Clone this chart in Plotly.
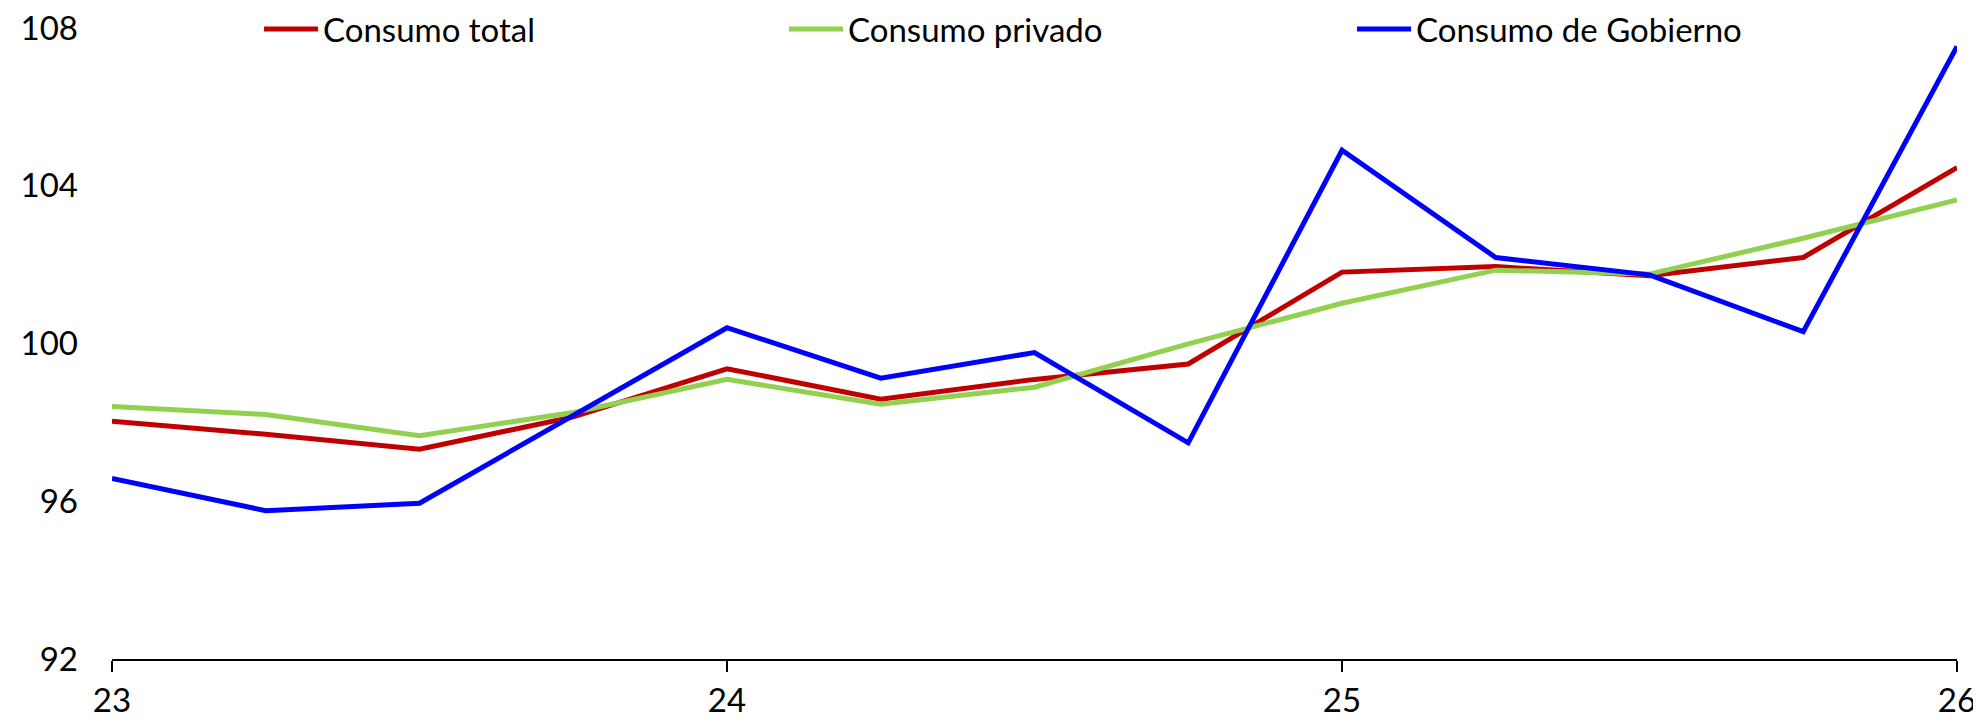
import plotly.graph_objs as go

# trimestres 2023 - 2026 (eje en años "23".."26")
periodos = [23.0, 23.25, 23.5, 23.75, 24.0, 24.25, 24.5, 24.75, 25.0, 25.25, 25.5, 25.75, 26.0]

consumo_total = [98.03, 97.70, 97.32, 98.14, 99.36, 98.59, 99.09, 99.48, 101.81, 101.95, 101.72, 102.18, 104.46]
consumo_privado = [98.40, 98.20, 97.66, 98.25, 99.09, 98.46, 98.89, 99.99, 101.02, 101.86, 101.76, 102.67, 103.64]
consumo_gobierno = [96.58, 95.76, 95.95, 98.17, 100.40, 99.12, 99.77, 97.48, 104.90, 102.18, 101.74, 100.30, 107.53]

nombres = ["Consumo total", "Consumo privado", "Consumo de Gobierno"]
colores = ["#C00000", "#92D050", "#0000FF"]

x_ticks = [23, 24, 25, 26]
x_labels = ["23", "24", "25", "26"]

FUENTE = dict(family="Lato", size=33, color="#000000")

fig = go.Figure()
for serie, nombre, color in zip([consumo_total, consumo_privado, consumo_gobierno], nombres, colores):
    fig.add_trace(go.Scatter(
        x=periodos, y=serie, name=nombre, mode="lines",
        line=dict(color=color, width=5),
        cliponaxis=False, showlegend=False,
    ))

# leyenda hecha a mano: línea + texto, en coordenadas del papel
leyenda_x = [(0.0824, 0.1117), (0.3669, 0.3962), (0.6748, 0.7041)]
for (x0, x1), nombre, color in zip(leyenda_x, nombres, colores):
    fig.add_shape(type="line", xref="paper", yref="paper", x0=x0, x1=x1, y0=0.9984, y1=0.9984,
                  line=dict(color=color, width=5))
    fig.add_annotation(xref="paper", yref="paper", x=x1 + 0.0015, y=0.9984, text=nombre,
                       showarrow=False, xanchor="left", yanchor="middle", font=FUENTE)

# el body de la página deja 8px de margen: se descuenta de los márgenes
fig.update_layout(
    width=1981, height=721,
    margin=dict(l=104, r=32, t=20, b=70),
    plot_bgcolor="white", paper_bgcolor="white",
    font=FUENTE,
)
fig.update_xaxes(
    range=[23, 26], tickvals=x_ticks, ticktext=x_labels,
    showline=True, linecolor="black", linewidth=2,
    ticks="outside", ticklen=11, tickwidth=2, tickcolor="black",
    showgrid=False, zeroline=False, ticklabelstandoff=0,
    automargin=False, ticklabeloverflow="allow",
)
fig.update_yaxes(
    range=[92, 108], dtick=4, showgrid=False, zeroline=False,
    showline=False, ticks="", ticklabelstandoff=33,
    automargin=False, ticklabeloverflow="allow",
)

fig.write_html("out.html")
